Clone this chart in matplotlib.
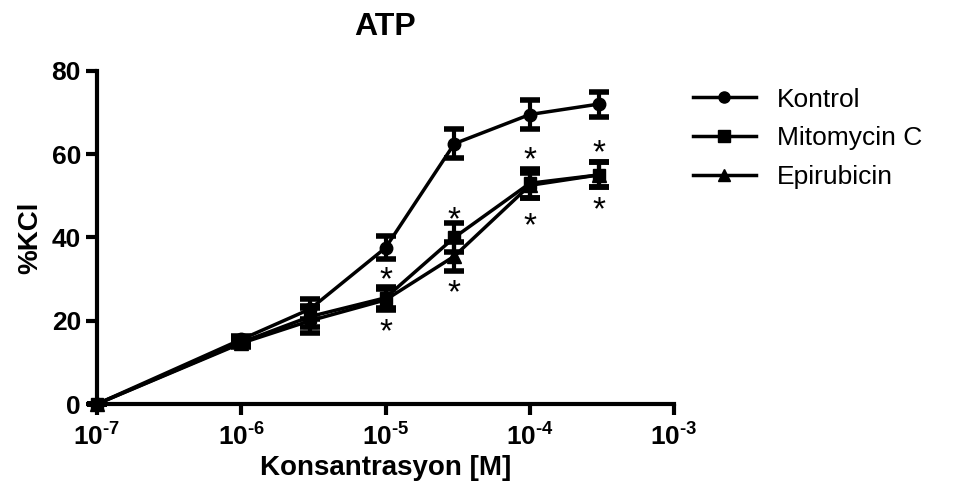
import matplotlib
matplotlib.use("Agg")
import matplotlib.pyplot as plt
from matplotlib.lines import Line2D

plt.rcParams['font.family'] = ['Liberation Sans', 'DejaVu Sans']
plt.rcParams['mathtext.fontset'] = 'custom'
plt.rcParams['mathtext.rm'] = 'Liberation Sans:bold'
plt.rcParams['mathtext.bf'] = 'Liberation Sans:bold'
plt.rcParams['mathtext.it'] = 'Liberation Sans:bold'

conc = [1e-7, 1e-6, 3e-6, 1e-5, 3e-5, 1e-4, 3e-4]
kontrol = [0, 15.5, 22.8, 37.5, 62.5, 69.5, 72.0]
kontrol_err = [0, 0.8, 2.5, 2.8, 3.5, 3.5, 3.0]
mito = [0, 14.8, 21.0, 25.5, 40.0, 53.0, 55.0]
mito_err = [0, 0.8, 2.5, 2.5, 3.5, 3.5, 3.0]
epi = [0, 14.6, 20.0, 25.0, 35.5, 52.5, 55.0]
epi_err = [0, 0.8, 3.0, 2.5, 3.5, 3.0, 3.0]

star_x = [1e-5, 1e-5, 3e-5, 3e-5, 1e-4, 1e-4, 3e-4, 3e-4]
star_y = [29.5, 17.0, 44.0, 26.5, 58.5, 42.5, 60.0, 46.5]

xticks = [1e-7, 1e-6, 1e-5, 1e-4, 1e-3]
xticklabels = [r'$\mathbf{10^{\text{-}7}}$', r'$\mathbf{10^{\text{-}6}}$',
               r'$\mathbf{10^{\text{-}5}}$', r'$\mathbf{10^{\text{-}4}}$',
               r'$\mathbf{10^{\text{-}3}}$']
yticks = [0, 20, 40, 60, 80]

fig = plt.figure(figsize=(9.59, 4.88), dpi=100)
ax = fig.add_axes([0.101, 0.172, 0.602, 0.683])

series = [
    (kontrol, kontrol_err, 'o', 'Kontrol', 9),
    (mito, mito_err, 's', 'Mitomycin C', 9),
    (epi, epi_err, '^', 'Epirubicin', 10),
]
handles = []
for vals, err, m, lab, ms in series:
    ax.errorbar(conc, vals, yerr=err, color='black', marker=m, markersize=ms,
                linewidth=2.5, elinewidth=3, capsize=7, capthick=4,
                clip_on=False, zorder=3)
    handles.append(Line2D([], [], color='black', marker=m, markersize=ms - 1,
                          linewidth=2.5, label=lab))

for sx, sy in zip(star_x, star_y):
    ax.text(sx, sy, '*', ha='center', va='center', fontsize=24, color='black')

ax.set_xscale('log')
ax.set_xlim(1e-7, 1e-3)
ax.set_ylim(0, 80)
ax.set_xticks(xticks)
ax.set_xticklabels(xticklabels, fontsize=19)
ax.minorticks_off()
ax.set_yticks(yticks)
ax.set_yticklabels([str(v) for v in yticks], fontsize=19, fontweight='bold')

for s in ['top', 'right']:
    ax.spines[s].set_visible(False)
for s in ['left', 'bottom']:
    ax.spines[s].set_linewidth(3)
ax.tick_params(axis='both', width=3, length=8, direction='out')
ax.tick_params(axis='x', pad=6)

ax.set_xlabel('Konsantrasyon [M]', fontsize=20, fontweight='bold', labelpad=3)
ax.set_ylabel('%KCl', fontsize=20, fontweight='bold', labelpad=6)
ax.set_title('ATP', fontsize=23, fontweight='bold', pad=26)

ax.legend(handles=handles, loc='upper left', bbox_to_anchor=(1.0, 1.005),
          frameon=False, fontsize=19, handlelength=2.4, labelspacing=0.56,
          borderaxespad=0.3)

fig.savefig('out.png', dpi=100)
